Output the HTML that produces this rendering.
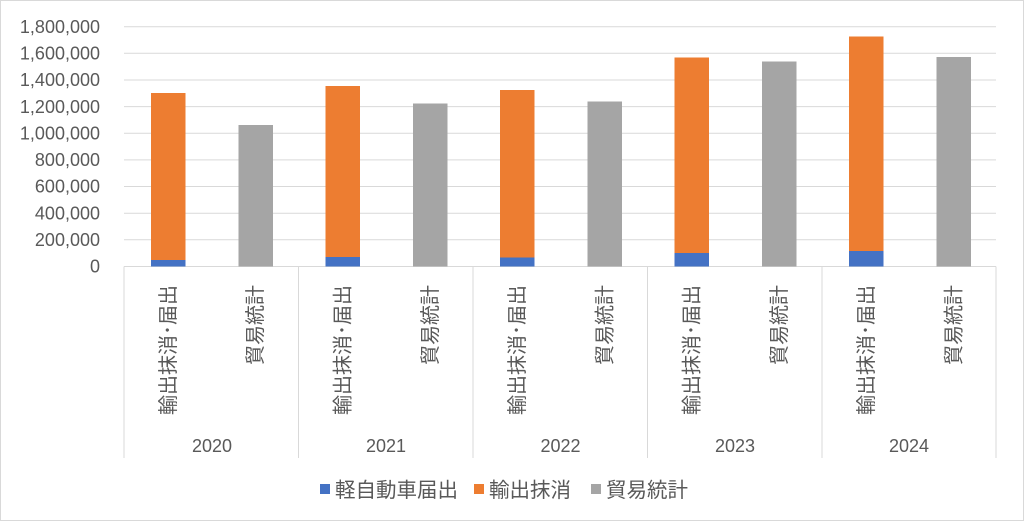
<!DOCTYPE html>
<html><head><meta charset="utf-8"><style>
html,body{margin:0;padding:0;background:#fff}
svg{display:block}
text{font-family:"Liberation Sans","Noto Sans CJK JP",sans-serif;fill:#595959}
</style></head><body>
<svg width="1024" height="521" viewBox="0 0 1024 521" xmlns="http://www.w3.org/2000/svg">
<rect x="0.5" y="0.5" width="1023" height="520" fill="#fff" stroke="#d9d9d9"/>
<g stroke="#d9d9d9" stroke-width="1">
<line x1="124" x2="996" y1="26.7" y2="26.7"/>
<line x1="124" x2="996" y1="53.3" y2="53.3"/>
<line x1="124" x2="996" y1="80" y2="80"/>
<line x1="124" x2="996" y1="106.6" y2="106.6"/>
<line x1="124" x2="996" y1="133.2" y2="133.2"/>
<line x1="124" x2="996" y1="159.9" y2="159.9"/>
<line x1="124" x2="996" y1="186.5" y2="186.5"/>
<line x1="124" x2="996" y1="213.2" y2="213.2"/>
<line x1="124" x2="996" y1="239.8" y2="239.8"/>
<line x1="124" x2="996" y1="266.5" y2="266.5"/>
<line x1="124" x2="124" y1="266.5" y2="458"/>
<line x1="298.5" x2="298.5" y1="266.5" y2="458"/>
<line x1="473" x2="473" y1="266.5" y2="458"/>
<line x1="647.5" x2="647.5" y1="266.5" y2="458"/>
<line x1="822" x2="822" y1="266.5" y2="458"/>
<line x1="996" x2="996" y1="266.5" y2="458"/>
</g>
<g font-size="18" text-anchor="end">
<text x="100" y="33">1,800,000</text>
<text x="100" y="59.5">1,600,000</text>
<text x="100" y="86">1,400,000</text>
<text x="100" y="113">1,200,000</text>
<text x="100" y="139.5">1,000,000</text>
<text x="100" y="166">800,000</text>
<text x="100" y="192.5">600,000</text>
<text x="100" y="219.5">400,000</text>
<text x="100" y="246">200,000</text>
<text x="100" y="272.5">0</text>
</g>
<g>
<rect x="151" y="93" width="34.5" height="167" fill="#ed7d31"/>
<rect x="151" y="260" width="34.5" height="6.5" fill="#4472c4"/>
<rect x="238.5" y="125" width="34.5" height="141.5" fill="#a5a5a5"/>
<rect x="325.5" y="86" width="34.5" height="171" fill="#ed7d31"/>
<rect x="325.5" y="257" width="34.5" height="9.5" fill="#4472c4"/>
<rect x="413" y="103.5" width="34.5" height="163" fill="#a5a5a5"/>
<rect x="500" y="90" width="34.5" height="167.5" fill="#ed7d31"/>
<rect x="500" y="257.5" width="34.5" height="9" fill="#4472c4"/>
<rect x="587.5" y="101.5" width="34.5" height="165" fill="#a5a5a5"/>
<rect x="674.5" y="57.5" width="34.5" height="195.5" fill="#ed7d31"/>
<rect x="674.5" y="253" width="34.5" height="13.5" fill="#4472c4"/>
<rect x="762" y="61.5" width="34.5" height="205" fill="#a5a5a5"/>
<rect x="849" y="36.5" width="34.5" height="214.5" fill="#ed7d31"/>
<rect x="849" y="251" width="34.5" height="15.5" fill="#4472c4"/>
<rect x="936.5" y="57" width="34.5" height="209.5" fill="#a5a5a5"/>
</g>
<g font-size="20">
<text transform="translate(175,285) rotate(-90)" text-anchor="end">輸出抹消･届出</text>
<text transform="translate(262,285) rotate(-90)" text-anchor="end">貿易統計</text>
<text transform="translate(349.5,285) rotate(-90)" text-anchor="end">輸出抹消･届出</text>
<text transform="translate(437,285) rotate(-90)" text-anchor="end">貿易統計</text>
<text transform="translate(524,285) rotate(-90)" text-anchor="end">輸出抹消･届出</text>
<text transform="translate(611.5,285) rotate(-90)" text-anchor="end">貿易統計</text>
<text transform="translate(698.5,285) rotate(-90)" text-anchor="end">輸出抹消･届出</text>
<text transform="translate(786,285) rotate(-90)" text-anchor="end">貿易統計</text>
<text transform="translate(873,285) rotate(-90)" text-anchor="end">輸出抹消･届出</text>
<text transform="translate(960.5,285) rotate(-90)" text-anchor="end">貿易統計</text>
</g>
<g font-size="18" text-anchor="middle">
<text x="212" y="452">2020</text>
<text x="386" y="452">2021</text>
<text x="560.5" y="452">2022</text>
<text x="735" y="452">2023</text>
<text x="909" y="452">2024</text>
</g>
<g font-size="20.5">
<rect x="320" y="484" width="10" height="10" fill="#4472c4"/>
<text x="335" y="497">軽自動車届出</text>
<rect x="474" y="484" width="10" height="10" fill="#ed7d31"/>
<text x="489" y="497">輸出抹消</text>
<rect x="591" y="484" width="10" height="10" fill="#a5a5a5"/>
<text x="606" y="497">貿易統計</text>
</g>
</svg>
</body></html>
